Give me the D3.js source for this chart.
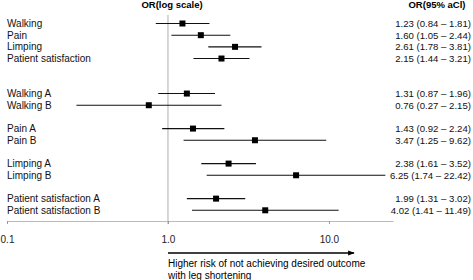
<!DOCTYPE html>
<html>
<head>
<meta charset="utf-8">
<script src="https://cdn.jsdelivr.net/npm/d3@7"></script>
<style>
	body { margin: 0; background: #fff; }
	svg { font-family: "Liberation Sans", Arial, sans-serif; }
	.axis path { stroke: #bbb; }
	.axis line { stroke: #999; }
	.axis text { font-size: 10px; fill: #222; }
</style>
</head>
<body>
<div class="forest-container"></div>
<script>
// rows, blanks are the gaps between groups
const labels = ['Walking', 'Pain', 'Limping', 'Patient satisfaction', '', '',
	'Walking A', 'Walking B', '', 'Pain A', 'Pain B', '',
	'Limping A', 'Limping B', '', 'Patient satisfaction A', 'Patient satisfaction B'];
const orVals = [1.23, 1.60, 2.61, 2.15, null, null, 1.31, 0.76, null, 1.43, 3.47, null, 2.38, 6.25, null, 1.99, 4.02];
const loVals = [0.84, 1.05, 1.78, 1.44, null, null, 0.87, 0.27, null, 0.92, 1.25, null, 1.61, 1.74, null, 1.31, 1.41];
const hiVals = [1.81, 2.44, 3.81, 3.21, null, null, 1.96, 2.15, null, 2.24, 9.62, null, 3.52, 22.42, null, 3.02, 11.49];
const tickVals = [0.1, 1, 10];

const outerW = 473,
	outerH = 280;

const svg = d3.select('.forest-container').append('svg')
	.attr('width', outerW)
	.attr('height', outerH);

const x = d3.scaleLog().domain([0.1, 25]).range([7, 393]);
const y = d3.scalePoint().domain(d3.range(labels.length)).range([23.5, 210.3]);
const axisY = 221;

const rows = labels.map((l, i) => ({ i, label: l, or: orVals[i], lo: loVals[i], hi: hiVals[i] }))
	.filter(d => d.label !== '');

// headers
svg.append('text')
	.attr('x', 172).attr('y', 8)
	.attr('text-anchor', 'middle')
	.style('font-size', '9.5px').style('font-weight', 'bold')
	.text('OR(log scale)');

svg.append('text')
	.attr('x', 437).attr('y', 8)
	.attr('text-anchor', 'middle')
	.style('font-size', '9.5px').style('font-weight', 'bold')
	.text('OR(95% aCl)');

// reference line at OR = 1
svg.append('line')
	.attr('x1', x(1)).attr('x2', x(1))
	.attr('y1', 15).attr('y2', axisY + 3)
	.attr('stroke', '#999')
	.attr('stroke-width', 0.8);

// axis
const xAxis = svg.append('g')
	.attr('class', 'axis')
	.attr('transform', `translate(0, ${axisY})`)
	.call(d3.axisBottom(x)
		.tickValues(tickVals)
		.tickFormat(d3.format('.1f'))
		.tickSize(3)
		.tickSizeOuter(0)
		.tickPadding(12)
	);
xAxis.select('.domain').attr('stroke', '#bbb');

// labels
svg.selectAll('.row-label')
	.data(rows)
	.enter().append('text')
	.attr('class', 'row-label')
	.attr('x', 7)
	.attr('y', d => y(d.i))
	.attr('dy', '0.35em')
	.style('font-size', '10px')
	.style('fill', '#111')
	.text(d => d.label);

// CI lines
svg.selectAll('.ci')
	.data(rows)
	.enter().append('line')
	.attr('class', 'ci')
	.attr('x1', d => x(d.lo))
	.attr('x2', d => x(d.hi))
	.attr('y1', d => y(d.i))
	.attr('y2', d => y(d.i))
	.attr('stroke', '#111')
	.attr('stroke-width', 1.1);

// point estimates
const s = 6;
svg.selectAll('.pt')
	.data(rows)
	.enter().append('rect')
	.attr('class', 'pt')
	.attr('x', d => x(d.or) - s / 2)
	.attr('y', d => y(d.i) - s / 2)
	.attr('width', s)
	.attr('height', s)
	.attr('fill', '#000');

// values column
const f = d3.format('.2f');
svg.selectAll('.val')
	.data(rows)
	.enter().append('text')
	.attr('class', 'val')
	.attr('x', 471)
	.attr('y', d => y(d.i))
	.attr('dy', '0.35em')
	.attr('text-anchor', 'end')
	.style('font-size', '9.6px')
	.style('fill', '#111')
	.text(d => `${f(d.or)} (${f(d.lo)} \u2013 ${f(d.hi)})`);

// arrow + caption
svg.append('defs').append('marker')
	.attr('id', 'arr')
	.attr('viewBox', '0 0 10 10')
	.attr('refX', 9).attr('refY', 5)
	.attr('markerWidth', 6).attr('markerHeight', 5)
	.attr('orient', 'auto')
	.append('path')
	.attr('d', 'M0,1L10,5L0,9Z')
	.attr('fill', '#000');

svg.append('line')
	.attr('x1', x(1)).attr('x2', 354)
	.attr('y1', 253).attr('y2', 253)
	.attr('stroke', '#000')
	.attr('stroke-width', 1.3)
	.attr('marker-end', 'url(#arr)');

svg.append('text')
	.attr('x', x(1)).attr('y', 263)
	.attr('dy', '0.35em')
	.style('font-size', '10px')
	.text('Higher risk of not achieving desired outcome');

svg.append('text')
	.attr('x', x(1)).attr('y', 275.5)
	.attr('dy', '0.35em')
	.style('font-size', '10px')
	.text('with leg shortening');
</script>
</body>
</html>
